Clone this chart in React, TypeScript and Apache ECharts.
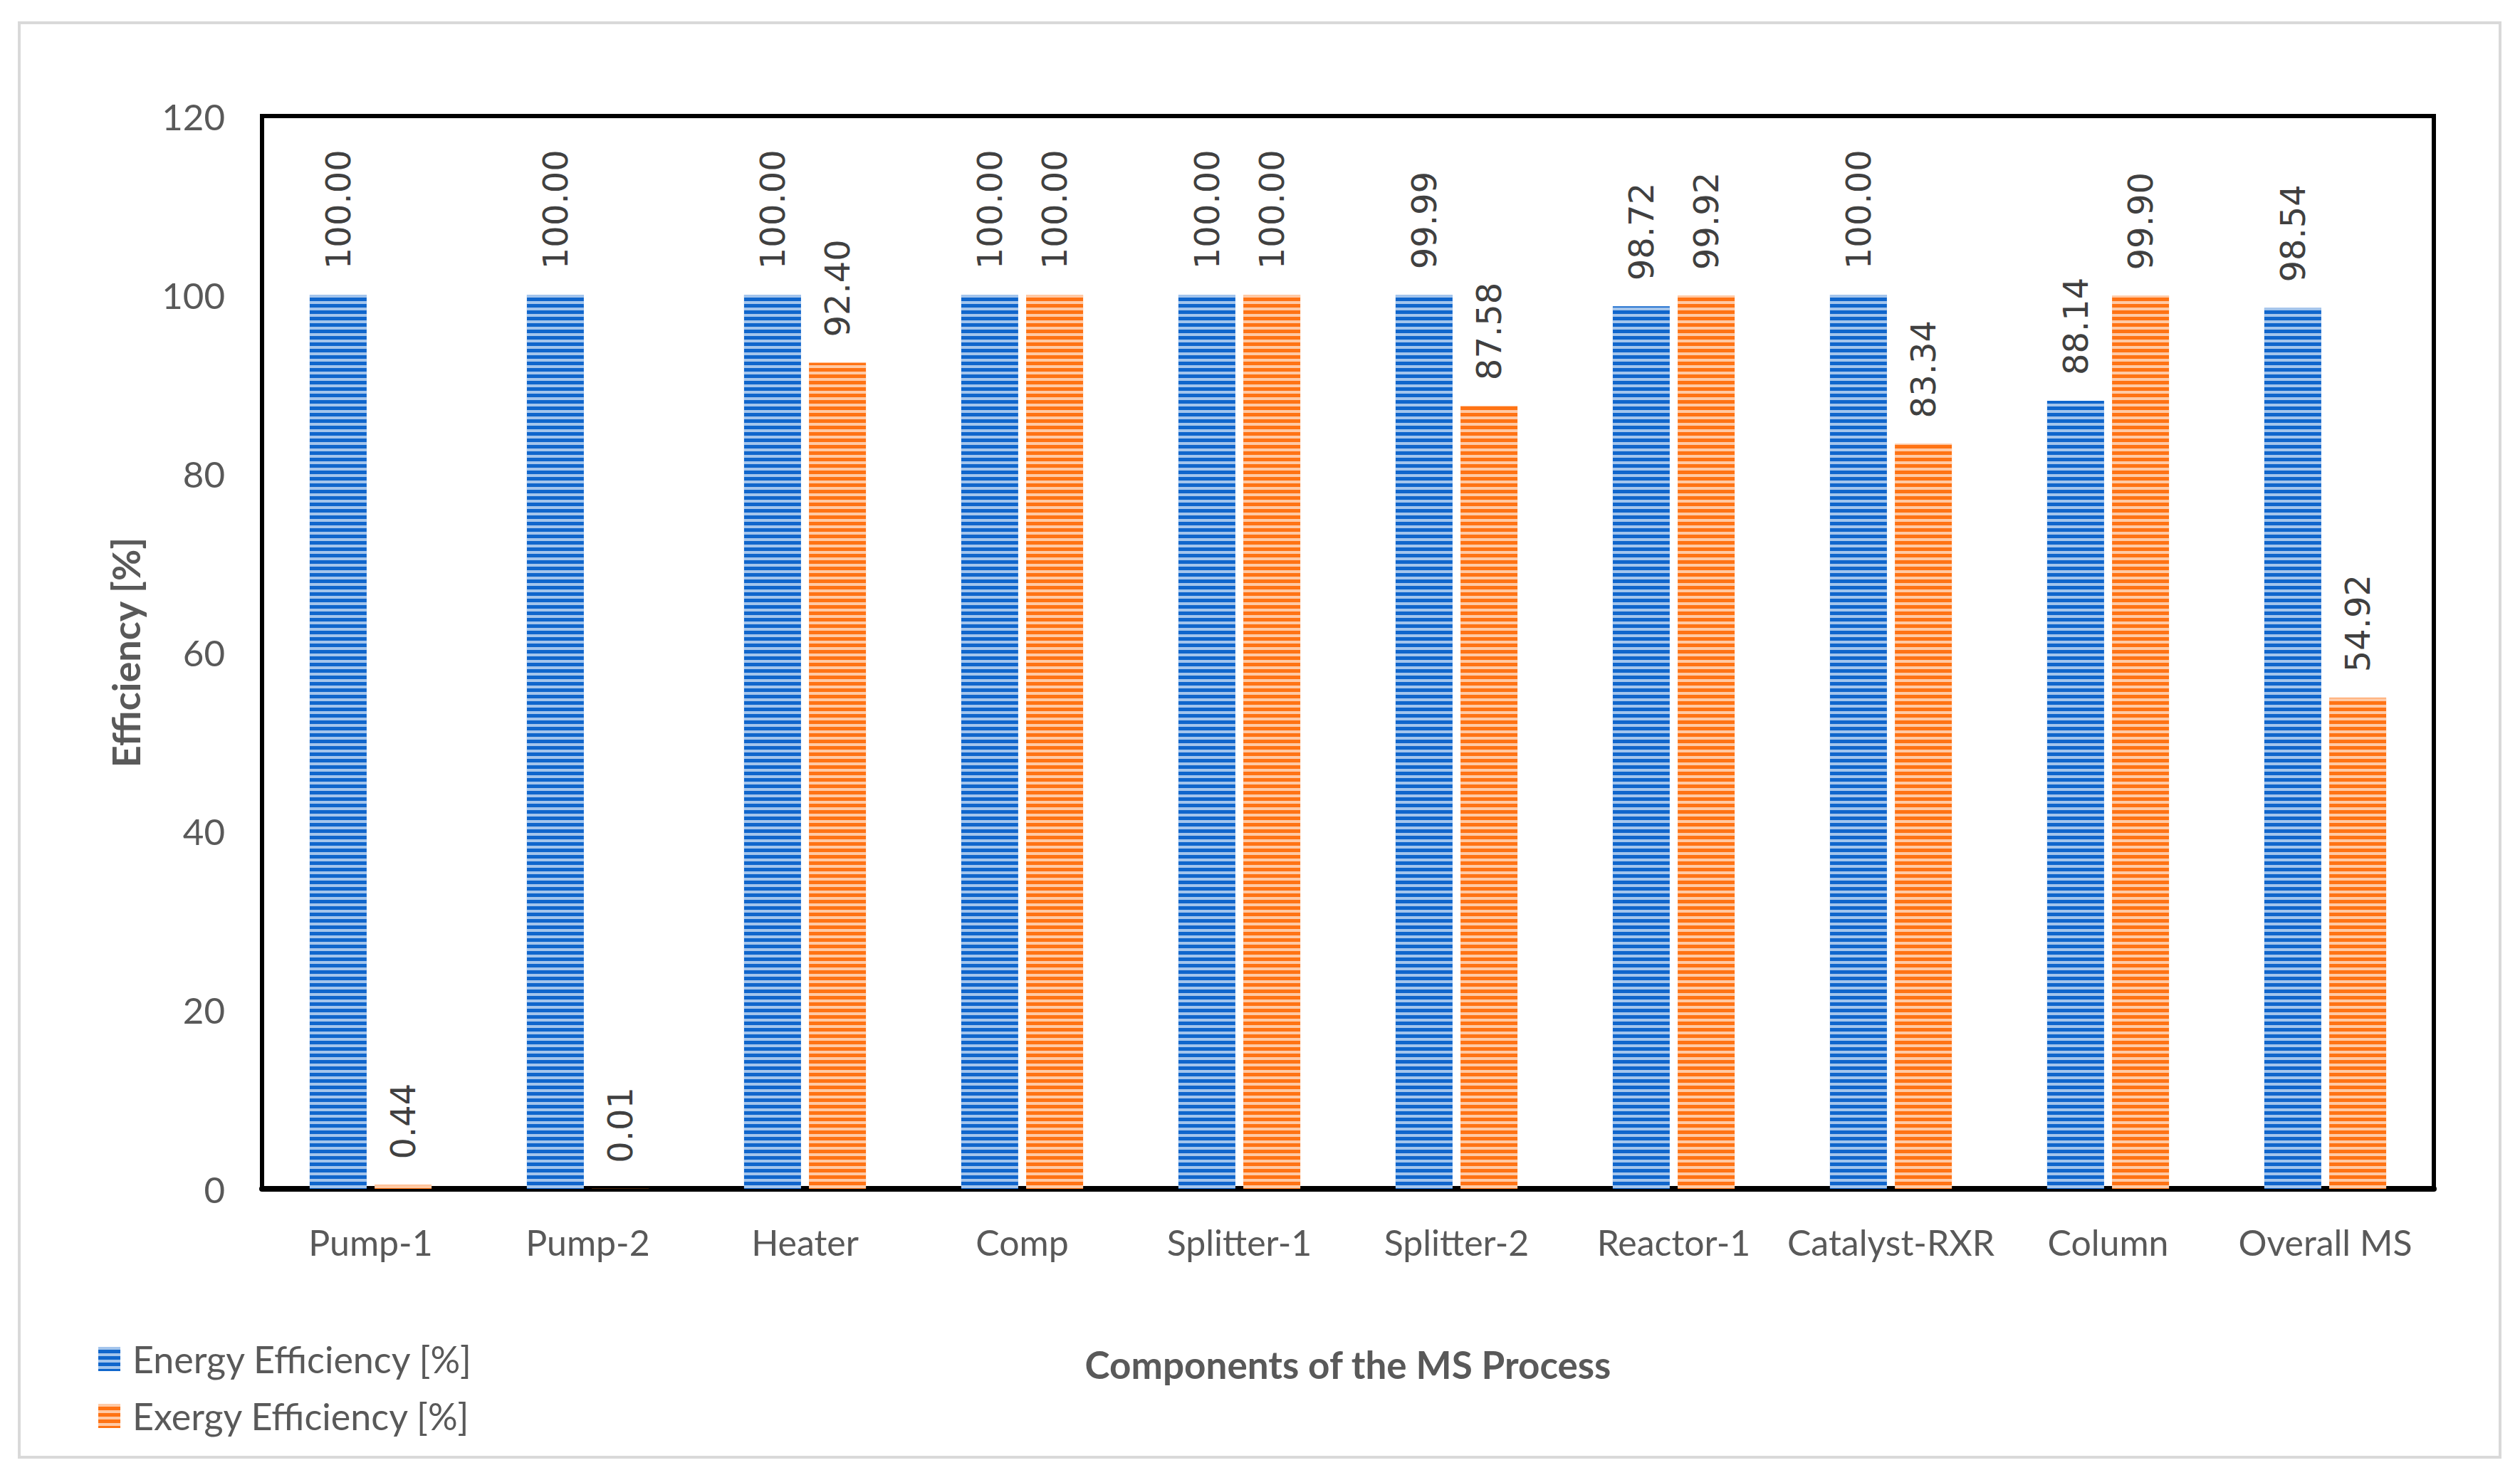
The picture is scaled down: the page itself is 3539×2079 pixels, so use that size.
import React, { useEffect, useRef } from "react";
import * as echarts from "echarts";

const categories = ["Pump-1", "Pump-2", "Heater", "Comp", "Splitter-1", "Splitter-2", "Reactor-1", "Catalyst-RXR", "Column", "Overall MS"];
const energyEfficiency = [100.0, 100.0, 100.0, 100.0, 100.0, 99.99, 98.72, 100.0, 88.14, 98.54];
const exergyEfficiency = [0.44, 0.01, 92.4, 100.0, 100.0, 87.58, 99.92, 83.34, 99.9, 54.92];
const seriesNames = ["Energy Efficiency [%]", "Exergy Efficiency [%]"];
const yTitle = "Efficiency [%]";
const xTitle = "Components of the MS Process";

const W = 3539;
const H = 2079;

const stripe = {
  symbol: "rect",
  symbolSize: 1,
  dashArrayX: [8, 0],
  dashArrayY: [4, 5],
  rotation: 0,
  color: "rgba(255,255,255,0.62)",
};

export default function App() {
  const ref = useRef<HTMLDivElement>(null);
  useEffect(() => {
    if (!ref.current) return;
    const chart = echarts.init(ref.current, null, { renderer: "svg", width: W, height: H });
    const labelCfg = {
      show: true,
      position: "top",
      rotate: 90,
      align: "left",
      verticalAlign: "middle",
      distance: 36,
      fontFamily: "DejaVu Sans",
      fontSize: 48,
      color: "#404040",
      formatter: (p: any) => Number(p.value).toFixed(2),
    };
    chart.setOption({
      animation: false,
      backgroundColor: "#ffffff",
      grid: {
        left: 368,
        top: 163,
        width: 3050,
        height: 1507,
        show: true,
        borderColor: "#000000",
        borderWidth: 6,
        containLabel: false,
      },
      legend: {
        orient: "vertical",
        left: 133,
        top: 1878,
        itemWidth: 31,
        itemHeight: 34,
        itemGap: 28,
        icon: "rect",
        textStyle: {
          fontFamily: "Lato",
          fontSize: 52,
          color: "#595959",
          padding: [0, 0, 0, 12],
        },
        data: seriesNames,
      },
      xAxis: {
        type: "category",
        data: categories,
        name: xTitle,
        nameLocation: "middle",
        nameGap: 220,
        nameTextStyle: {
          fontFamily: "Lato",
          fontWeight: "bold",
          fontSize: 53,
          color: "#595959",
        },
        axisLine: { show: true, lineStyle: { color: "#000000", width: 8 } },
        axisTick: { show: false },
        axisLabel: {
          interval: 0,
          fontFamily: "Lato",
          fontSize: 50,
          color: "#595959",
          margin: 50,
        },
        splitLine: { show: false },
      },
      yAxis: {
        type: "value",
        min: 0,
        max: 120,
        interval: 20,
        name: yTitle,
        nameLocation: "middle",
        nameRotate: 90,
        nameGap: 165,
        nameTextStyle: {
          fontFamily: "Lato",
          fontWeight: "bold",
          fontSize: 54,
          color: "#595959",
        },
        axisLine: { show: false },
        axisTick: { show: false },
        splitLine: { show: false },
        axisLabel: {
          fontFamily: "Lato",
          fontSize: 51,
          color: "#595959",
          margin: 52,
        },
      },
      series: [
        {
          name: seriesNames[0],
          type: "bar",
          data: energyEfficiency,
          barWidth: 80,
          barGap: "14%",
          itemStyle: { color: "#1066cc", decal: stripe },
          label: labelCfg,
        },
        {
          name: seriesNames[1],
          type: "bar",
          data: exergyEfficiency,
          barWidth: 80,
          barGap: "14%",
          itemStyle: { color: "#ff7314", decal: stripe },
          label: labelCfg,
        },
      ],
      graphic: [
        {
          type: "rect",
          shape: { x: 27, y: 32, width: 3484, height: 2015 },
          style: { fill: "none", stroke: "#d9d9d9", lineWidth: 4 },
          silent: true,
        },
      ],
    });
    return () => chart.dispose();
  }, []);
  return (
    <div
      ref={ref}
      style={{ position: "fixed", left: 0, top: 0, width: W, height: H }}
    />
  );
}
